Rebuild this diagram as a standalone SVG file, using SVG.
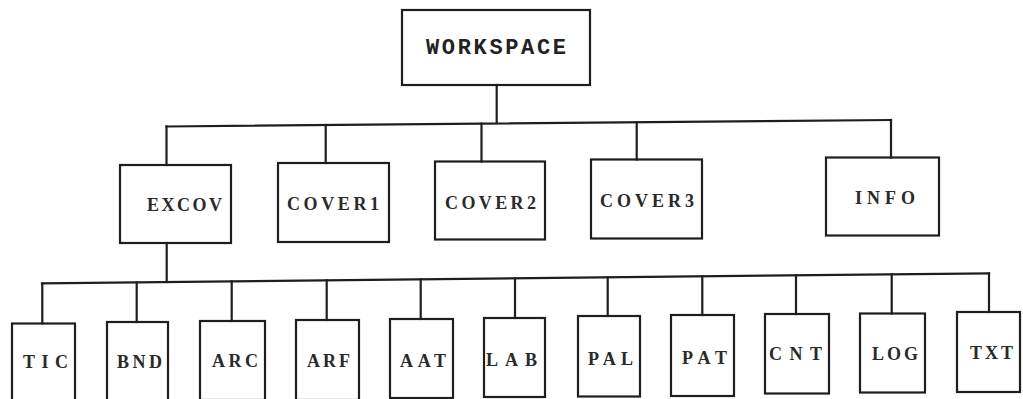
<svg xmlns="http://www.w3.org/2000/svg" width="1023" height="399" viewBox="0 0 1023 399">
<style>
.box{fill:none;stroke:#1e1e1e;stroke-width:2.2}
.lbl{font-family:"Liberation Serif","Times New Roman",serif;font-weight:bold;font-size:18px;fill:#2a2a2a}
.big{font-family:"Liberation Mono","Courier New",monospace;font-size:22px;fill:#222}
.con line{stroke:#1e1e1e;stroke-width:2.2;stroke-linecap:square}
</style>
<rect width="1023" height="399" fill="#ffffff"/>
<g class="con" id="connectors">
<line x1="496.7" y1="85" x2="496.7" y2="123"/>
<line x1="166.5" y1="126.5" x2="891" y2="120"/>
<line x1="166.5" y1="126.5" x2="166.5" y2="165"/>
<line x1="325.7" y1="125" x2="325.7" y2="163"/>
<line x1="481.5" y1="123.6" x2="481.5" y2="161.5"/>
<line x1="636.7" y1="122.3" x2="636.7" y2="159.5"/>
<line x1="891" y1="120" x2="891" y2="157.5"/>
<line x1="166.7" y1="243" x2="166.7" y2="282"/>
<line x1="42" y1="283.3" x2="989" y2="273.3"/>
<line x1="42.3" y1="283.3" x2="42.3" y2="323.5"/>
<line x1="136.7" y1="282.3" x2="136.7" y2="322"/>
<line x1="231.7" y1="281.3" x2="231.7" y2="321"/>
<line x1="326.7" y1="280.3" x2="326.7" y2="320"/>
<line x1="420.7" y1="279.3" x2="420.7" y2="319"/>
<line x1="515" y1="278.3" x2="515" y2="318"/>
<line x1="607.7" y1="277.3" x2="607.7" y2="316"/>
<line x1="702.3" y1="276.3" x2="702.3" y2="315"/>
<line x1="796" y1="275.3" x2="796" y2="314"/>
<line x1="891.7" y1="274.3" x2="891.7" y2="313.5"/>
<line x1="989" y1="273.3" x2="989" y2="312"/>
</g>
<g id="workspace"><rect class="box" x="402" y="10" width="188" height="75"/><text class="lbl big" x="426" y="54" textLength="140" lengthAdjust="spacing">WORKSPACE</text></g>
<g id="excov"><rect class="box" x="120" y="165" width="111" height="78"/><text class="lbl" x="147" y="211" textLength="75" lengthAdjust="spacing">EXCOV</text></g>
<g id="cover1"><rect class="box" x="278" y="163" width="111" height="79"/><text class="lbl" x="287" y="210" textLength="92" lengthAdjust="spacing">COVER1</text></g>
<g id="cover2"><rect class="box" x="435" y="161.5" width="110" height="78"/><text class="lbl" x="445" y="209" textLength="91" lengthAdjust="spacing">COVER2</text></g>
<g id="cover3"><rect class="box" x="591" y="159.5" width="111" height="79"/><text class="lbl" x="600" y="207" textLength="94" lengthAdjust="spacing">COVER3</text></g>
<g id="info"><rect class="box" x="826" y="157.5" width="113" height="78"/><text class="lbl" x="855" y="204" textLength="60" lengthAdjust="spacing">INFO</text></g>
<g id="tic"><rect class="box" x="12" y="323.5" width="63" height="80"/><text class="lbl" x="23" y="368" textLength="45" lengthAdjust="spacing">TIC</text></g>
<g id="bnd"><rect class="box" x="107" y="322" width="61" height="80"/><text class="lbl" x="117" y="367.5" textLength="45" lengthAdjust="spacing">BND</text></g>
<g id="arc"><rect class="box" x="200" y="321" width="65" height="79"/><text class="lbl" x="212" y="367" textLength="46" lengthAdjust="spacing">ARC</text></g>
<g id="arf"><rect class="box" x="296" y="320" width="63" height="80"/><text class="lbl" x="307" y="367" textLength="43" lengthAdjust="spacing">ARF</text></g>
<g id="aat"><rect class="box" x="390" y="319" width="63" height="79"/><text class="lbl" x="400" y="366.5" textLength="46" lengthAdjust="spacing">AAT</text></g>
<g id="lab"><rect class="box" x="484" y="318" width="61" height="79"/><text class="lbl" x="486" y="365.5" textLength="51" lengthAdjust="spacing">LAB</text></g>
<g id="pal"><rect class="box" x="578" y="316" width="62" height="80.5"/><text class="lbl" x="588" y="364.5" textLength="45" lengthAdjust="spacing">PAL</text></g>
<g id="pat"><rect class="box" x="671" y="315" width="63" height="81"/><text class="lbl" x="682" y="364" textLength="45" lengthAdjust="spacing">PAT</text></g>
<g id="cnt"><rect class="box" x="765" y="314" width="64" height="79.5"/><text class="lbl" x="769" y="360" textLength="53" lengthAdjust="spacing">CNT</text></g>
<g id="log"><rect class="box" x="860" y="313.5" width="65" height="79"/><text class="lbl" x="872" y="359.5" textLength="46" lengthAdjust="spacing">LOG</text></g>
<g id="txt"><rect class="box" x="957" y="312" width="63" height="80"/><text class="lbl" x="970" y="358.5" textLength="43" lengthAdjust="spacing">TXT</text></g>
</svg>
